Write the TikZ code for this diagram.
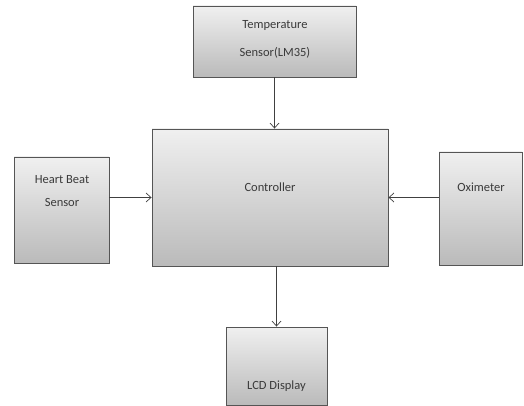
\documentclass[tikz,border=0pt]{standalone}
\usepackage{fontspec}
\setmainfont{Carlito}
\usetikzlibrary{arrows.meta,shadows}
\definecolor{boxline}{HTML}{555555}
\definecolor{txt}{HTML}{3A3A3A}
\tikzset{
  blk/.style={draw=boxline, line width=0.9pt, top color=black!6, bottom color=black!27,
     rectangle, inner sep=0pt, drop shadow={shadow xshift=1.2pt, shadow yshift=-1.2pt, opacity=0.35}},
  lbl/.style={text=txt, font=\fontsize{12.5}{14}\selectfont, align=center, inner sep=0pt},
  conn/.style={draw=black!75, line width=0.7pt, -{Straight Barb[length=5pt,width=9pt]}}
}
\begin{document}
\begin{tikzpicture}[x=1pt,y=-1pt]
\useasboundingbox (0,0) rectangle (524,406);
\node[blk, minimum width=163pt, minimum height=71pt] (temp) at (274.5,41.5) {};
\node[blk, minimum width=236pt, minimum height=137pt] (ctrl) at (270,197.5) {};
\node[blk, minimum width=95pt, minimum height=106pt] (heart) at (61.5,210) {};
\node[blk, minimum width=83pt, minimum height=113pt] (oxi) at (480.5,208.5) {};
\node[blk, minimum width=101pt, minimum height=78pt] (lcd) at (276.5,366) {};
\node[lbl] (templbl) at (275,39) {Temperature\\[14pt]Sensor(LM35)};
\node[lbl] (ctrllbl) at (270,187) {Controller};
\node[lbl] (heartlbl) at (62,191.5) {Heart Beat\\[9pt]Sensor};
\node[lbl] (oxilbl) at (481,187) {Oximeter};
\node[lbl] (lcdlbl) at (276.5,386) {LCD Display};
\draw[conn] (temp.south) -- (temp.south |- ctrl.north);
\draw[conn] (heart.east |- ctrl.west) -- (ctrl.west);
\draw[conn] (oxi.west |- ctrl.east) -- (ctrl.east);
\draw[conn] (lcd.north |- ctrl.south) -- (lcd.north);
\end{tikzpicture}
\end{document}
